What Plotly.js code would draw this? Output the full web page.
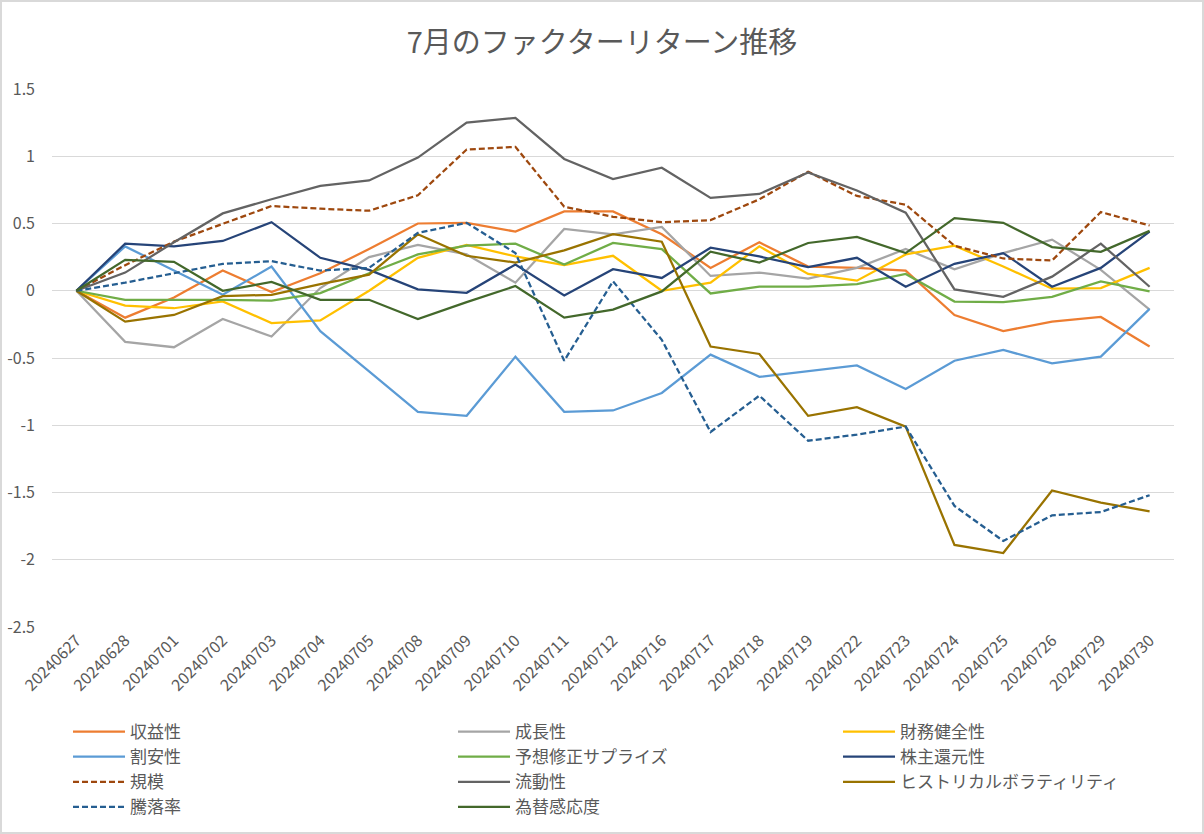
<!DOCTYPE html>
<html>
<head>
<meta charset="utf-8">
<script src="https://cdn.plot.ly/plotly-3.0.1.min.js"></script>
<style>
  html, body { margin: 0; padding: 0; background: #ffffff; }
  #chart { width: 1204px; height: 834px; }
  #frame { position: absolute; left: 0; top: 0; width: 1204px; height: 834px; box-sizing: border-box; border: 2px solid #D9D9D9; pointer-events: none; }
</style>
</head>
<body>
<div id="chart"></div>
<div id="frame"></div>
<script>
// ---- data ----
const categories = ['20240627','20240628','20240701','20240702','20240703','20240704','20240705','20240708','20240709','20240710','20240711','20240712','20240716','20240717','20240718','20240719','20240722','20240723','20240724','20240725','20240726','20240729','20240730'];

const seriesNames = ['収益性','成長性','財務健全性','割安性','予想修正サプライズ','株主還元性','規模','流動性','ヒストリカルボラティリティ','騰落率','為替感応度'];

const shuekisei   = [0, -0.20, -0.05, 0.15, -0.01, 0.13, 0.31, 0.50, 0.505, 0.44, 0.59, 0.59, 0.42, 0.17, 0.36, 0.18, 0.17, 0.15, -0.18, -0.30, -0.23, -0.195, -0.415];
const seichousei  = [0, -0.38, -0.42, -0.21, -0.34, 0.02, 0.25, 0.34, 0.27, 0.06, 0.46, 0.42, 0.475, 0.11, 0.135, 0.09, 0.17, 0.31, 0.16, 0.28, 0.38, 0.155, -0.14];
const zaimu       = [0, -0.11, -0.13, -0.08, -0.24, -0.22, 0.0, 0.245, 0.34, 0.255, 0.19, 0.26, 0.0, 0.06, 0.33, 0.125, 0.075, 0.27, 0.335, 0.18, 0.015, 0.02, 0.17];
const wariyasu    = [0, 0.33, 0.15, -0.03, 0.18, -0.30, -0.60, -0.90, -0.93, -0.49, -0.90, -0.89, -0.76, -0.475, -0.64, -0.60, -0.555, -0.73, -0.52, -0.44, -0.54, -0.49, -0.135];
const yosou       = [0, -0.067, -0.067, -0.067, -0.074, -0.017, 0.13, 0.27, 0.335, 0.35, 0.195, 0.355, 0.31, -0.02, 0.03, 0.03, 0.05, 0.125, -0.08, -0.085, -0.045, 0.07, -0.005];
const kabunushi   = [0, 0.35, 0.33, 0.37, 0.51, 0.245, 0.155, 0.01, -0.015, 0.195, -0.035, 0.16, 0.095, 0.32, 0.255, 0.175, 0.245, 0.03, 0.20, 0.28, 0.03, 0.17, 0.44];
const kibo        = [0, 0.19, 0.365, 0.50, 0.63, 0.61, 0.595, 0.71, 1.05, 1.07, 0.625, 0.55, 0.51, 0.525, 0.68, 0.885, 0.705, 0.64, 0.335, 0.24, 0.225, 0.585, 0.485];
const ryudousei   = [0, 0.135, 0.36, 0.575, 0.68, 0.78, 0.82, 0.99, 1.25, 1.285, 0.98, 0.83, 0.915, 0.69, 0.72, 0.88, 0.745, 0.58, 0.01, -0.045, 0.105, 0.35, 0.03];
const histvol     = [0, -0.23, -0.18, -0.04, -0.03, 0.05, 0.12, 0.42, 0.26, 0.21, 0.30, 0.42, 0.365, -0.415, -0.47, -0.93, -0.865, -1.01, -1.89, -1.95, -1.485, -1.575, -1.64];
const tourakuritsu= [0, 0.06, 0.13, 0.20, 0.22, 0.15, 0.17, 0.43, 0.505, 0.28, -0.52, 0.07, -0.365, -1.05, -0.78, -1.115, -1.07, -1.01, -1.60, -1.86, -1.67, -1.645, -1.52];
const kawase      = [0, 0.23, 0.215, 0.0, 0.065, -0.067, -0.067, -0.21, -0.085, 0.035, -0.20, -0.14, -0.005, 0.29, 0.21, 0.355, 0.40, 0.28, 0.54, 0.505, 0.325, 0.29, 0.445];

const seriesValues = [shuekisei, seichousei, zaimu, wariyasu, yosou, kabunushi, kibo, ryudousei, histvol, tourakuritsu, kawase];

const yTickVals = [1.5, 1, 0.5, 0, -0.5, -1, -1.5, -2, -2.5];
const yTickText = ['1.5', '1', '0.5', '0', '-0.5', '-1', '-1.5', '-2', '-2.5'];

// ---- styles ----
const colors = ['#ED7D31','#A5A5A5','#FFC000','#5B9BD5','#70AD47','#264478','#9E480E','#636363','#997300','#255E91','#43682B'];
const dashes = ['solid','solid','solid','solid','solid','solid','6px,3px','solid','solid','6px,3px','solid'];
const legendIds = ['legend','legend2','legend3','legend','legend2','legend3','legend','legend2','legend3','legend','legend2'];

const FONT = '"Noto Sans CJK JP", "Noto Sans", sans-serif';
const TXT = '#595959';

const traces = seriesNames.map((name, i) => ({
  type: 'scatter',
  mode: 'lines',
  name: name,
  x: categories,
  y: seriesValues[i],
  line: { color: colors[i], width: 2.25, dash: dashes[i] },
  legend: legendIds[i],
  hoverinfo: 'x+y+name'
}));

const W = 1204, H = 834;
const ML = 52, MR = 30, PW = W - ML - MR;
const ITEMW = 52;
const legendBase = {
  orientation: 'v',
  yref: 'container',
  y: 1 - 714 / H,
  yanchor: 'top',
  xref: 'paper',
  xanchor: 'left',
  itemwidth: ITEMW,
  bgcolor: 'rgba(0,0,0,0)',
  font: { family: FONT, size: 17, color: TXT },
  itemclick: false,
  itemdoubleclick: false
};
const textOffset = ITEMW + 10;

const layout = {
  width: W,
  height: H,
  margin: { l: ML, r: MR, t: 89, b: 207 },
  paper_bgcolor: '#ffffff',
  plot_bgcolor: '#ffffff',
  font: { family: FONT, color: TXT },
  title: {
    text: '7月のファクターリターン推移',
    font: { family: FONT, size: 29, color: TXT },
    x: 0.5,
    xref: 'container',
    xanchor: 'center',
    y: 1 - 43 / H,
    yref: 'container',
    yanchor: 'middle'
  },
  showlegend: true,
  xaxis: {
    type: 'category',
    range: [-0.5, categories.length - 0.5],
    showgrid: false,
    zeroline: false,
    showline: false,
    ticks: '',
    tickangle: -45,
    tickfont: { family: FONT, size: 16, color: TXT },
    automargin: false,
    fixedrange: true
  },
  yaxis: {
    range: [-2.5, 1.5],
    tickmode: 'array',
    tickvals: yTickVals,
    ticktext: yTickText,
    showgrid: true,
    gridcolor: '#D9D9D9',
    gridwidth: 1.3,
    zeroline: false,
    showline: false,
    ticks: '',
    ticklabelstandoff: 16,
    tickfont: { family: FONT, size: 16, color: TXT },
    automargin: false,
    fixedrange: true
  },
  legend:  Object.assign({}, legendBase, { x: (130 - textOffset - ML) / PW }),
  legend2: Object.assign({}, legendBase, { x: (515 - textOffset - ML) / PW }),
  legend3: Object.assign({}, legendBase, { x: (900 - textOffset - ML) / PW })
};

Plotly.newPlot('chart', traces, layout, { displayModeBar: false, responsive: false });
</script>
</body>
</html>
